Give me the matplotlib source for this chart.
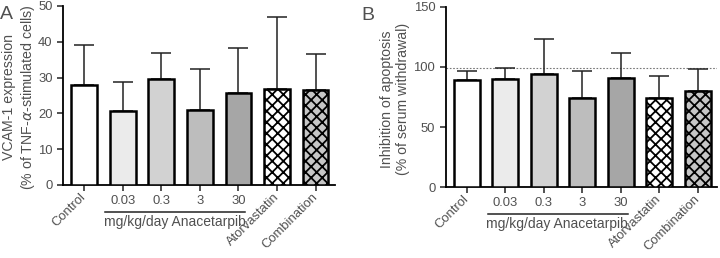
import numpy as np
import matplotlib
matplotlib.use('Agg')
import matplotlib.pyplot as plt
from matplotlib import transforms

plt.rcParams['font.family'] = ['Liberation Sans', 'DejaVu Sans']
plt.rcParams['hatch.linewidth'] = 1.3
plt.rcParams['mathtext.fontset'] = 'dejavusans'

# 数据
groups = ['Control', '0.03', '0.3', '3', '30', 'Atorvastatin', 'Combination']
vcam_mean = [28.0, 20.7, 29.5, 21.0, 25.7, 26.7, 26.4]
vcam_top = [39.0, 28.8, 36.8, 32.3, 38.3, 46.8, 36.5]
apop_mean = [89.5, 90.0, 94.5, 74.0, 90.5, 74.5, 80.0]
apop_top = [96.5, 99.0, 123.0, 97.0, 112.0, 92.5, 98.0]
apop_ref = 99

face = ['white', '#ebebeb', '#d2d2d2', '#bdbdbd', '#a6a6a6', 'white', '#c6c6c6']
hatch = [None, None, None, None, None, 'xxx', 'xxx']
txt = '#505050'


def panel(ax, mean, top, ylim, yticks, ylabel, letter, lab_x, let_x):
    x = np.arange(len(groups))
    for i in range(len(groups)):
        ax.bar(x[i], mean[i], width=0.67, color=face[i], edgecolor='black',
               linewidth=1.8, hatch=hatch[i], zorder=3)
    err = np.array(top) - np.array(mean)
    ax.errorbar(x, mean, yerr=[np.zeros(len(x)), err], fmt='none',
                ecolor='#222222', elinewidth=1.1, capsize=7, capthick=1.1, zorder=2)
    ax.set_xlim(-0.55, 6.5)
    ax.set_ylim(*ylim)
    ax.set_yticks(yticks)
    for s in ['top', 'right']:
        ax.spines[s].set_visible(False)
    for s in ['left', 'bottom']:
        ax.spines[s].set_linewidth(1.3)
    ax.tick_params(axis='both', length=4, width=1.1, colors='#222222',
                   labelcolor=txt, labelsize=9.4)
    ax.set_xticks(x)
    ax.set_xticklabels(groups)
    for i, lab in enumerate(ax.get_xticklabels()):
        if i in (0, 5, 6):
            lab.set_rotation(45)
            lab.set_ha('right')
            lab.set_va('center')
            lab.set_rotation_mode('anchor')
    ax.set_ylabel(ylabel, color=txt, fontsize=10.2, linespacing=1.25)
    ax.yaxis.set_label_coords(lab_x, 0.49)
    tr = transforms.blended_transform_factory(ax.transData, ax.transAxes)
    ax.plot([0.55, 4.18], [-0.15, -0.15], color='#222222', lw=1.1,
            transform=tr, clip_on=False)
    ax.text(2.35, -0.165, 'mg/kg/day Anacetarpib', transform=tr, ha='center',
            va='top', color=txt, fontsize=10)
    ax.text(let_x, 1.0, letter, transform=ax.transAxes, fontsize=14,
            color=txt, va='top', ha='left')


fig = plt.figure(figsize=(7.2, 2.58), dpi=100)
axA = fig.add_axes([0.0875, 0.283, 0.3775, 0.694])
axB = fig.add_axes([0.619, 0.275, 0.377, 0.698])

panel(axA, vcam_mean, vcam_top, (0, 50), [0, 10, 20, 30, 40, 50],
      'VCAM-1 expression\n(% of TNF-$\\alpha$-stimulated cells)', 'A', -0.095, -0.232)
panel(axB, apop_mean, apop_top, (0, 150), [0, 50, 100, 150],
      'Inhibition of apoptosis\n(% of serum withdrawal)', 'B', -0.13, -0.31)
axB.axhline(apop_ref, color='#777777', lw=0.8, ls=(0, (1.5, 1.5)), zorder=1)

plt.savefig('out.png', dpi=100)
